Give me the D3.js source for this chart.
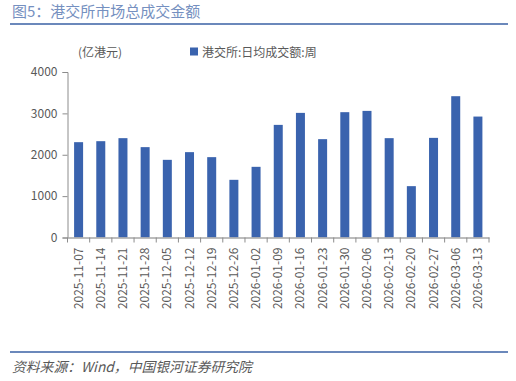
<!DOCTYPE html>
<html><head><meta charset="utf-8">
<script src="https://cdn.jsdelivr.net/npm/d3@7/dist/d3.min.js"></script>
<style>body{margin:0;background:#fff}svg{display:block}</style>
</head><body><svg id="c" width="516" height="381"></svg>
<script>
const categories = ["2025-11-07","2025-11-14","2025-11-21","2025-11-28","2025-12-05","2025-12-12","2025-12-19","2025-12-26","2026-01-02","2026-01-09","2026-01-16","2026-01-23","2026-01-30","2026-02-06","2026-02-13","2026-02-20","2026-02-27","2026-03-06","2026-03-13"];
const values = [2304,2328,2401,2184,1877,2063,1942,1394,1708,2722,3012,2377,3029,3060,2401,1241,2408,3415,2923];
const yTicks = [0,1000,2000,3000,4000];
const seriesName = "港交所:日均成交额:周";
const unitLabel = "(亿港元)";
const titleText = "图5：港交所市场总成交金额";
const sourceText = "资料来源：Wind，中国银河证券研究院";

(function(){
const svg = d3.select("#c");
const font = "'Noto Sans CJK SC','Liberation Sans',sans-serif";
const pL = 67.5, pR = 489, pT = 72, pB = 237.5;
const xb = d3.scaleBand().domain(categories).range([pL, pR]);
const y = d3.scaleLinear().domain([0,4000]).range([pB, pT]);

// title
svg.append("text").attr("x",12).attr("y",17).attr("font-family",font).attr("font-size",15).attr("fill","#7590c0").text(titleText);
svg.append("line").attr("x1",10).attr("x2",508).attr("y1",24).attr("y2",24).attr("stroke","#6b88bb").attr("stroke-width",2);

// bars
svg.selectAll("rect.bar").data(values).join("rect").attr("class","bar")
  .attr("x",(d,i)=>xb(categories[i]) + xb.bandwidth()/2 - 4.5)
  .attr("width",9)
  .attr("y",d=>y(d)).attr("height",d=>y(0)-y(d))
  .attr("fill","#3a63ae");

// y axis
const ya = svg.append("g").attr("transform",`translate(${pL},0)`)
  .call(d3.axisLeft(y).tickValues(yTicks).tickSize(5).tickPadding(5).tickFormat(d3.format("d")));
ya.select(".domain").attr("stroke","#8c8c8c");
ya.selectAll(".tick line").attr("stroke","#8c8c8c");
ya.selectAll("text").attr("font-family",font).attr("font-size",12).attr("fill","#595959");

// x axis
const xa = svg.append("g").attr("transform",`translate(0,${pB})`)
  .call(d3.axisBottom(xb).tickSize(0).tickFormat(""));
xa.select(".domain").attr("stroke","#a6a6a6").attr("stroke-width",1.5);
xa.selectAll(".tick").remove();
const bounds = categories.map(c=>xb(c)).concat([pR]);
svg.selectAll("line.xt").data(bounds).join("line").attr("class","xt")
  .attr("x1",d=>d).attr("x2",d=>d).attr("y1",pB).attr("y2",pB+5).attr("stroke","#8c8c8c");
svg.selectAll("text.xl").data(categories).join("text").attr("class","xl")
  .attr("transform",d=>`translate(${xb(d)+xb.bandwidth()/2+4},${pB+10}) rotate(-90)`)
  .attr("text-anchor","end").attr("font-family",font).attr("font-size",12).attr("fill","#595959").text(d=>d);

// unit label & legend
svg.append("text").attr("x",78).attr("y",57).attr("font-family",font).attr("font-size",12).attr("fill","#595959").text(unitLabel);
svg.append("rect").attr("x",190).attr("y",47.5).attr("width",8).attr("height",8).attr("fill","#3a63ae");
svg.append("text").attr("x",202).attr("y",57).attr("font-family",font).attr("font-size",12).attr("fill","#595959").text(seriesName);

// source
svg.append("line").attr("x1",10).attr("x2",508).attr("y1",352).attr("y2",352).attr("stroke","#6b88bb").attr("stroke-width",2);
svg.append("text").attr("x",12).attr("y",372).attr("font-family",font).attr("font-size",13.8).attr("font-style","italic").attr("fill","#595959").text(sourceText);
})();
</script></body></html>
